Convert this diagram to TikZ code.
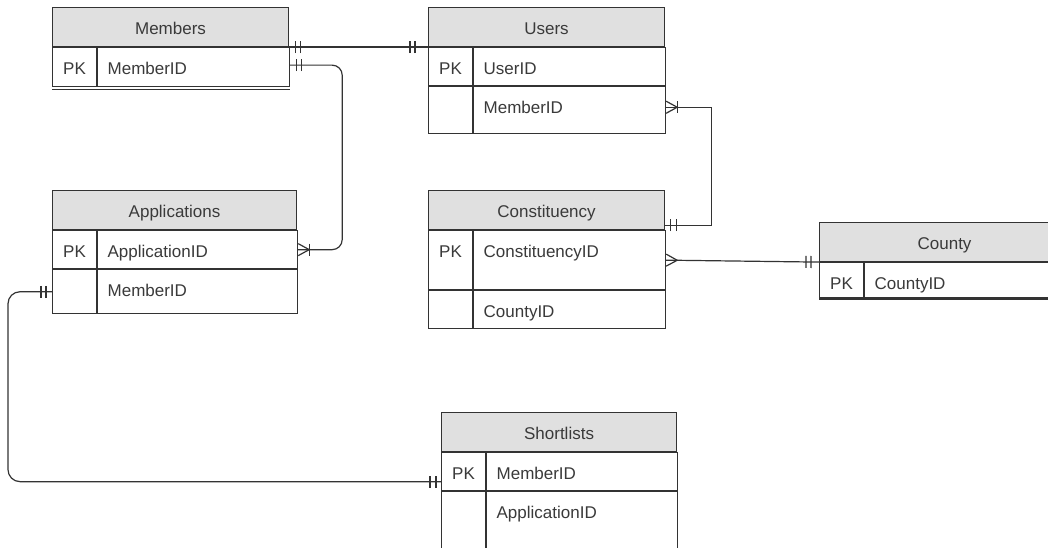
\documentclass[tikz,border=0pt]{standalone}
\usepackage{fontspec}
\setmainfont{Liberation Sans}
\usepackage{xcolor}
\usetikzlibrary{decorations.markings}
\definecolor{linec}{HTML}{333333}
\definecolor{hdrc}{HTML}{E0E0E0}
\definecolor{txtc}{HTML}{3A3A3A}

\tikzset{
  hdr/.style={draw=linec, fill=hdrc, line width=1.1pt, text=txtc, anchor=north west, inner sep=0pt, minimum width=#1, text height=27pt, text depth=12pt},
  keycell/.style={draw=linec, line width=1.1pt, text=txtc, anchor=north west, inner sep=0pt, minimum width=44pt, text height=27pt, text depth=#1},
  fieldcell/.style 2 args={draw=linec, line width=1.1pt, text=txtc, anchor=north west, inner xsep=10pt, inner ysep=0pt, text height=27pt, text depth=#2,
    execute at begin node={\hbox to #1\bgroup}, execute at end node={\hfil\egroup}},
  conn/.style={draw=linec, line width=1.2pt},
  bar/.style={postaction={decorate, decoration={markings, mark=at position #1 with {\draw[linec, line width=1.2pt] (0pt,-6pt) -- (0pt,6pt);}}}},
  crow/.style={postaction={decorate, decoration={markings, mark=at position -11pt with {\draw[linec, line width=1.2pt, sharp corners] (11pt,6pt) -- (0pt,0pt) -- (11pt,-6pt);}}}}
}

\begin{document}
\begin{tikzpicture}[x=1pt, y=-1pt, font=\fontsize{17pt}{20pt}\selectfont]
\clip (0,0) rectangle (1048,548);
\fill[white] (0,0) rectangle (1048,548);
% Members
\node[hdr=236pt] (mem-h) at (52,7) {Members};
\node[keycell=12pt] (mem-k1) at (mem-h.south west) {PK};
\node[fieldcell={172pt}{12pt}] (mem-f1) at (mem-k1.north east) {MemberID};
\draw[linec, line width=1.1pt] ([yshift=-2pt]mem-k1.south west) -- ([yshift=-2pt]mem-f1.south east);
% Users
\node[hdr=236pt] (usr-h) at (428,7) {Users};
\node[keycell=11pt] (usr-k1) at (usr-h.south west) {PK};
\node[fieldcell={172pt}{11pt}] (usr-f1) at (usr-k1.north east) {UserID};
\node[keycell=20pt] (usr-k2) at (usr-k1.south west) {};
\node[fieldcell={172pt}{20pt}] (usr-f2) at (usr-k2.north east) {MemberID};
% Applications
\node[hdr=244pt] (app-h) at (52,190) {Applications};
\node[keycell=11pt] (app-k1) at (app-h.south west) {PK};
\node[fieldcell={180pt}{11pt}] (app-f1) at (app-k1.north east) {ApplicationID};
\node[keycell=17pt] (app-k2) at (app-k1.south west) {};
\node[fieldcell={180pt}{17pt}] (app-f2) at (app-k2.north east) {MemberID};
% Constituency
\node[hdr=236pt] (con-h) at (428,190) {Constituency};
\node[keycell=32pt] (con-k1) at (con-h.south west) {PK};
\node[fieldcell={172pt}{32pt}] (con-f1) at (con-k1.north east) {ConstituencyID};
\node[keycell=11pt] (con-k2) at (con-k1.south west) {};
\node[fieldcell={172pt}{11pt}] (con-f2) at (con-k2.north east) {CountyID};
% County
\node[hdr=250pt] (cty-h) at (819,222) {County};
\node[keycell=8pt] (cty-k1) at (cty-h.south west) {PK};
\node[fieldcell={186pt}{8pt}] (cty-f1) at (cty-k1.north east) {CountyID};
\draw[linec, line width=2.6pt] (cty-k1.south west) -- (cty-f1.south east);
% Shortlists
\node[hdr=235pt] (sl-h) at (441,412) {Shortlists};
\node[keycell=11pt] (sl-k1) at (sl-h.south west) {PK};
\node[fieldcell={171pt}{11pt}] (sl-f1) at (sl-k1.north east) {MemberID};
\node[keycell=35pt] (sl-k2) at (sl-k1.south west) {};
\node[fieldcell={171pt}{35pt}] (sl-f2) at (sl-k2.north east) {ApplicationID};

% relations
\draw[conn, bar=6pt, bar=11pt, bar=-18pt, bar=-13pt] (mem-h.south east) -- (usr-h.south west);
\draw[conn, rounded corners=10pt, bar=6pt, bar=11pt, crow, bar=-11pt] ([yshift=2pt]mem-f1.east) -| ([xshift=44pt]app-f1.east) -- (app-f1.east);
\draw[conn, bar=5pt, bar=11pt, crow, bar=-11pt] ([yshift=5pt]con-h.south east) -| ([xshift=45pt,yshift=3pt]usr-f2.east) -- ([yshift=3pt]usr-f2.east);
\draw[conn, bar=8pt, bar=13pt, crow] (cty-h.south west) -- (con-f1.east);
\draw[conn, rounded corners=12pt, bar=6pt, bar=11pt, bar=-11pt, bar=-5pt] (app-k2.west) -- ++(-44,0) |- ([yshift=-10pt]sl-k1.west);
\end{tikzpicture}
\end{document}
